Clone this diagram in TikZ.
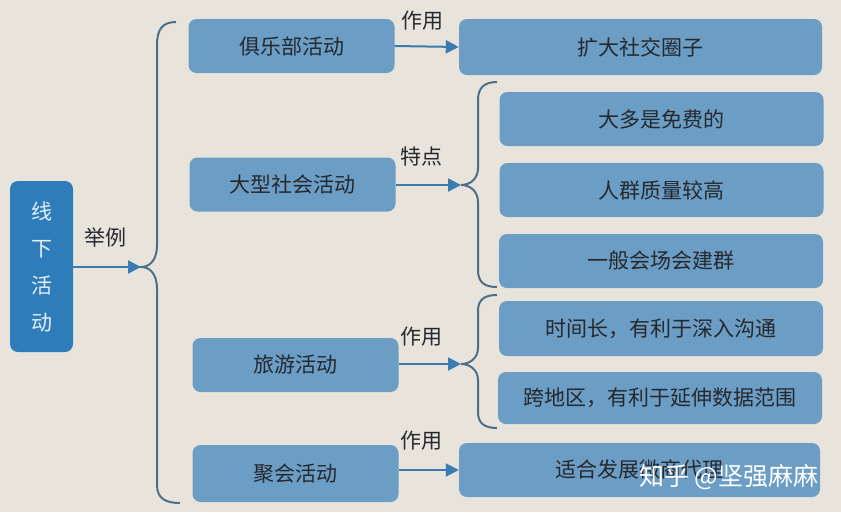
\documentclass[tikz,border=0pt]{standalone}
\usepackage{fontspec}
\setmainfont{Noto Sans CJK SC}
\usetikzlibrary{arrows.meta}
\definecolor{bg}{HTML}{E8E4DC}
\definecolor{boxblue}{HTML}{6B9DC5}
\definecolor{rootblue}{HTML}{2E7DBA}
\definecolor{bracecol}{HTML}{4D6F89}
\definecolor{arrowcol}{HTML}{3A7BB0}
\definecolor{txt}{HTML}{25292E}
\tikzset{
	box/.style={fill=boxblue, rounded corners=8pt, text=txt, inner sep=0pt,
		font=\fontsize{21}{25}\selectfont, minimum height=54pt},
	shortbox/.style={box, minimum width=206pt},
	longbox/.style={box, minimum width=324pt},
	lbl/.style={text=txt, font=\fontsize{21}{25}\selectfont, inner sep=0pt},
	arr/.style={draw=arrowcol, line width=2pt, -{Triangle[length=13pt,width=13pt]}},
	brace/.style={draw=bracecol, line width=2pt},
}
\begin{document}
\begin{tikzpicture}[x=1pt, y=-1pt]
		\useasboundingbox (0,0) rectangle (841,512);
		\fill[bg] (0,0) rectangle (841,512);
		% root
		\node [box, fill=rootblue, text=white!88!rootblue, minimum width=63pt, minimum height=171pt,
			align=center, font=\fontsize{21}{37}\selectfont] (root) at (41.5,266.5) {线\\下\\活\\动};
		% activities
		\node [shortbox] (club) at (291.5,46) {俱乐部活动};
		\node [shortbox] (big) at (292.5,184.5) {大型社会活动};
		\node [shortbox] (travel) at (295.5,365) {旅游活动};
		\node [shortbox, minimum height=57pt] (party) at (295.5,473.5) {聚会活动};
		% results
		\node [box, minimum width=363pt, minimum height=56pt] (expand) at (640.5,47) {扩大社交圈子};
		\node [longbox] (free) at (661.5,119) {大多是免费的};
		\node [longbox] (quality) at (661.5,190) {人群质量较高};
		\node [longbox] (group) at (661,261) {一般会场会建群};
		\node [longbox, minimum height=55pt] (time) at (661,328.5) {时间长，有利于深入沟通};
		\node [longbox, minimum height=52pt] (region) at (660,398) {跨地区，有利于延伸数据范围};
		\node [box, minimum width=361pt] (micro) at (639.5,470) {适合发展微商代理};
		% braces
		\coordinate (lb) at (141,267);
		\coordinate (rb1) at (461,185);
		\coordinate (rb2) at (461,364);
		\draw [brace] (176,22) .. controls (162,22) and (157,30) .. (157,45) -- (157,245)
			.. controls (157,260) and (150,267) .. (lb) .. controls (150,267) and (157,274) .. (157,289)
			-- (157,485) .. controls (157,498) and (165,503) .. (180,503);
		\draw [brace] (497,82) .. controls (484,82) and (478,88) .. (478,100) -- (478,168)
			.. controls (478,179) and (470,185) .. (rb1) .. controls (470,185) and (478,191) .. (478,202)
			-- (478,270) .. controls (478,282) and (484,287) .. (497,287);
		\draw [brace] (497,295) .. controls (484,295) and (478,300) .. (478,311) -- (478,348)
			.. controls (478,358) and (470,364) .. (rb2) .. controls (470,364) and (478,370) .. (478,380)
			-- (478,412) .. controls (478,423) and (484,428) .. (497,428);
		% arrows
		\draw [arr] (root.east |- lb) -- (lb);
		\draw [arr] (club.east) -- (expand.west);
		\draw [arr] (big.east |- rb1) -- (rb1);
		\draw [arr] (travel.east |- rb2) -- (rb2);
		\draw [arr] (party.east |- micro.west) -- (micro.west);
		\node [lbl] (eg) at (105,237) {举例};
		\node [lbl] (use1) at (422,21) {作用};
		\node [lbl] (feat) at (421,157) {特点};
		\node [lbl] (use2) at (421,337) {作用};
		\node [lbl] (use3) at (421,441) {作用};
		% watermark
		\node [text=white, inner sep=0pt, font=\fontsize{25}{30}\selectfont] (mark) at (729,477) {知乎 @坚强麻麻};
	\end{tikzpicture}
\end{document}
